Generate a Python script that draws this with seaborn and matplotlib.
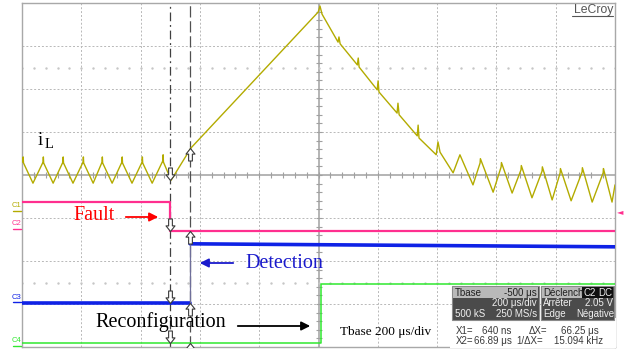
import numpy as np
import pandas as pd
import matplotlib
matplotlib.use("Agg")
import matplotlib.pyplot as plt
from matplotlib.path import Path
from matplotlib.patches import Rectangle, FancyArrowPatch
import seaborn as sns

# ---------------------------------------------------------------------------
# Scope screen: time in microseconds (trigger at 0), amplitude in divisions
# ---------------------------------------------------------------------------
T_MIN, T_MAX = -500, 1500
V_MIN, V_MAX = -4, 4
T_DIV = 200

# Inductor current iL (trace vertices)
il_t = [-500, -497, -496, -495, -463,
        -429, -428, -427, -395,
        -362, -361, -360, -328,
        -294, -293, -292, -260,
        -230, -229, -228, -196,
        -163, -162, -161, -129,
        -95, -94, -93, -61,
        -25, -24, -23, 3,
        70, 499, 505, 512,
        566, 569, 573, 631, 634, 637, 698, 701, 704,
        765, 768, 772, 833, 836, 839, 897, 903, 910,
        954, 977, 1021,
        1045, 1046, 1089, 1116, 1117, 1153, 1183, 1184, 1220,
        1254, 1255, 1288, 1315, 1316, 1352, 1389, 1390, 1423,
        1460, 1461, 1490, 1500]
il_v = [0.33, 0.30, 0.42, 0.28, -0.19,
        0.30, 0.42, 0.28, -0.19,
        0.30, 0.42, 0.28, -0.19,
        0.30, 0.42, 0.28, -0.19,
        0.30, 0.42, 0.28, -0.19,
        0.30, 0.42, 0.28, -0.19,
        0.30, 0.42, 0.28, -0.19,
        0.33, 0.47, 0.30, -0.12,
        0.63, 3.79, 3.93, 3.74,
        3.09, 3.21, 3.05, 2.56, 2.72, 2.51, 1.98, 2.19, 1.93,
        1.44, 1.67, 1.40, 0.91, 1.16, 0.86, 0.47, 0.77, 0.53,
        0.05, 0.47, -0.23,
        0.28, 0.38, -0.40, 0.19, 0.29, -0.42, 0.12, 0.22, -0.53,
        0.09, 0.19, -0.58, 0.05, 0.15, -0.60, 0.07, 0.17, -0.63,
        0.05, 0.15, -0.63, -0.23]

# C2: fault command (falls at the trigger)
c2_t = [-500, 0.6, 0.6, 1500]
c2_v = [-0.63, -0.63, -1.30, -1.30]

# C3: fault detection
c3_t = [-500, 66.9, 66.9, 1500]
c3_v = [-2.98, -2.98, -1.60, -1.67]

# C4: reconfiguration order
c4_t = [-500, 509, 509, 1500]
c4_v = [-3.91, -3.91, -2.53, -2.53]

# Cursors X1 / X2 and the trace levels they read
cursor_t = [0.64, 66.89]
x1_levels = [-0.12, -1.30, -2.98, -3.91]
x2_levels = [0.63, -1.30, -2.98, -3.91]

channel_labels = ["C1", "C2", "C3", "C4"]
channel_label_v = [-0.72, -1.13, -2.84, -3.86]

COL_IL = "#b3ab00"
COL_C2 = "#ff2f8f"
COL_C3 = "#0f22e6"
COL_C4 = "#2fe82f"
GRID = "#b8b8b8"

W, H = 624, 349
sns.set_theme(style="white")
plt.rcParams["font.family"] = ["Liberation Serif", "DejaVu Serif"]

fig = plt.figure(figsize=(W / 100, H / 100), dpi=100)
fig.patch.set_facecolor("white")


def fx(px):
    return px / W


def fy(py):
    return 1 - py / H


ax = fig.add_axes([fx(22), fy(347), (615 - 22) / W, (347 - 3) / H])
ax.set_xlim(T_MIN, T_MAX)
ax.set_ylim(V_MIN, V_MAX)
ax.set_xticks([])
ax.set_yticks([])
for s in ax.spines.values():
    s.set_color("#a8a8a8")
    s.set_linewidth(1.0)

# graticule
for k in range(1, 10):
    t = T_MIN + k * T_DIV
    if k == 5:
        continue
    ax.axvline(t, color=GRID, lw=0.7, ls=(0, (2, 2)), zorder=0)
for k in range(1, 8):
    v = V_MIN + k
    if v == 0:
        continue
    ax.axhline(v, color=GRID, lw=0.7, ls=(0, (2, 2)), zorder=0)
ax.axhline(0, color="#a0a0a0", lw=1.1, zorder=0)
ax.axvline(500, color="#a0a0a0", lw=1.1, zorder=0)
minor_t = np.arange(T_MIN, T_MAX + 1, T_DIV / 5)
minor_v = np.arange(V_MIN, V_MAX + 0.01, 0.2)
ax.plot(minor_t, np.zeros_like(minor_t), ls="none", marker="|", ms=4,
        mew=0.8, color="#a0a0a0", zorder=0)
ax.plot(np.full_like(minor_v, 500), minor_v, ls="none", marker="_", ms=4,
        mew=0.8, color="#a0a0a0", zorder=0)
for v in (2.5, -2.5):
    ax.plot(minor_t, np.full_like(minor_t, v), ls="none", marker="s", ms=0.7,
            color="#c6c6c6", zorder=0)

# traces
df_il = pd.DataFrame({"t": il_t, "v": il_v})
sns.lineplot(data=df_il, x="t", y="v", sort=False, estimator=None, ax=ax,
             color=COL_IL, lw=1.0, zorder=3)

df_c2 = pd.DataFrame({"t": c2_t, "v": c2_v})
sns.lineplot(data=df_c2, x="t", y="v", sort=False, estimator=None, ax=ax,
             color=COL_C2, lw=1.6, zorder=3)

# detection: thick noisy levels, thin edge
sns.lineplot(x=c3_t[:2], y=c3_v[:2], sort=False, estimator=None, ax=ax,
             color=COL_C3, lw=2.6, zorder=3)
sns.lineplot(x=c3_t[2:], y=c3_v[2:], sort=False, estimator=None, ax=ax,
             color=COL_C3, lw=2.6, zorder=3)
sns.lineplot(x=c3_t[1:3], y=c3_v[1:3], sort=False, estimator=None, ax=ax,
             color="#6f6f9a", lw=0.9, zorder=3)

df_c4 = pd.DataFrame({"t": c4_t, "v": c4_v})
sns.lineplot(data=df_c4, x="t", y="v", sort=False, estimator=None, ax=ax,
             color=COL_C4, lw=1.1, zorder=3)

# cursors
ax.axvline(cursor_t[0], color="#404040", lw=0.9, ls=(0, (7, 3, 1.5, 3)), zorder=2)
ax.axvline(cursor_t[1], color="#505050", lw=0.9, ls=(0, (9, 3)), zorder=2)

# hollow cursor arrows (tip at the origin)
down_arrow = Path([(0, 0), (-0.36, 0.45), (-0.15, 0.45), (-0.15, 1.0),
                   (0.15, 1.0), (0.15, 0.45), (0.36, 0.45), (0, 0)],
                  [Path.MOVETO] + [Path.LINETO] * 6 + [Path.CLOSEPOLY])
up_arrow = Path([(x, -y) for x, y in down_arrow.vertices], down_arrow.codes)
ax.plot(np.full(len(x1_levels), cursor_t[0]), x1_levels, ls="none",
        marker=down_arrow, ms=18, mfc="white", mec="#3a3a3a", mew=0.8, zorder=5)
ax.plot(np.full(len(x2_levels), cursor_t[1]), x2_levels, ls="none",
        marker=up_arrow, ms=18, mfc="white", mec="#3a3a3a", mew=0.8, zorder=5)

# channel markers at the left edge
for lab, v, c in zip(channel_labels, channel_label_v, [COL_IL, COL_C2, COL_C3, COL_C4]):
    py = 175 - v * 43
    fig.text(fx(17), fy(py), lab, fontsize=5.5, color=c, ha="center", va="center",
             family=["Liberation Sans", "DejaVu Sans"])
    fig.add_artist(plt.Line2D([fx(13), fx(21)], [fy(py + 5), fy(py + 5)],
                              color=c, lw=1.0, transform=fig.transFigure))

# trigger level marker on the right
fig.text(fx(620), fy(212), "\u25C4", fontsize=6, color=COL_C2, ha="center",
         va="center", family=["DejaVu Sans"])

# annotations
fig.text(fx(38), fy(145), "i", fontsize=13.5, ha="left", va="baseline", color="black")
fig.text(fx(44.5), fy(148), "L", fontsize=10.5, ha="left", va="baseline", color="black")

fig.text(fx(73), fy(215), "Fault", fontsize=14.5, color="#ff0000", ha="left", va="center")
fig.add_artist(FancyArrowPatch((fx(123), fy(217)), (fx(161), fy(217)),
                               transform=fig.transFigure, arrowstyle="-|>",
                               mutation_scale=13, color="#ff0000", lw=1.3))

fig.text(fx(245), fy(263), "Detection", fontsize=14.5, color="#1a1acc", ha="left", va="center")
fig.add_artist(FancyArrowPatch((fx(236), fy(263)), (fx(197), fy(263)),
                               transform=fig.transFigure, arrowstyle="-|>",
                               mutation_scale=13, color="#1a1acc", lw=1.3))

fig.text(fx(95), fy(322), "Reconfiguration", fontsize=14.5, color="black", ha="left", va="center")
fig.add_artist(FancyArrowPatch((fx(235), fy(326)), (fx(313), fy(326)),
                               transform=fig.transFigure, arrowstyle="-|>",
                               mutation_scale=13, color="black", lw=1.3))

fig.text(fx(340), fy(332), "Tbase 200 \u03bcs/div", fontsize=9.5, color="black",
         ha="left", va="center")

# brand
SANS = ["Liberation Sans", "DejaVu Sans"]
fig.text(fx(613), fy(10), "LeCroy", fontsize=8.8, color="#555555", ha="right",
         va="center", family=SANS)
fig.add_artist(plt.Line2D([fx(572), fx(613)], [fy(16), fy(16)], color="#555555",
                          lw=0.8, transform=fig.transFigure))


# timebase / trigger panel
def box(x0, y0, x1, y1, fc, ec="none", lw=0.0):
    fig.add_artist(Rectangle((fx(x0), fy(y1)), (x1 - x0) / W, (y1 - y0) / H,
                             transform=fig.transFigure, facecolor=fc,
                             edgecolor=ec, lw=lw, zorder=6))


def txt(x, y, s, ha="left", color="#f0f0f0", fs=7.0):
    fig.text(fx(x), fy(y), s, fontsize=fs, color=color, ha=ha, va="center",
             family=SANS, zorder=7)


box(450, 318, 616, 348, "white")
box(452, 286, 539, 320, "#4b4b4b", "#8a8a8a", 0.8)
box(541, 286, 614, 320, "#4b4b4b", "#8a8a8a", 0.8)
box(453, 287, 538, 298, "#b9b9b9")
box(542, 287, 582, 298, "#b9b9b9")
box(582, 287, 598, 298, "#101010")
box(598, 287, 613, 298, "#101010")

txt(455, 292.5, "Tbase", color="#202020")
txt(537, 292.5, "-500 \u03bcs", ha="right", color="#202020")
txt(537, 303.5, "200 \u03bcs/div", ha="right")
txt(455, 314, "500 kS")
txt(537, 314, "250 MS/s", ha="right")
txt(543, 292.5, "D\u00e9clench", color="#202020")
txt(590, 292.5, "C2", ha="center")
txt(605.5, 292.5, "DC", ha="center")
txt(543, 303.5, "Arr\u00eater")
txt(613, 303.5, "2.05 V", ha="right")
txt(543, 314, "Edge")
txt(614, 314, "N\u00e9gative", ha="right")

DARK = "#3a3a3a"
txt(456, 331, "X1=", color=DARK)
txt(511, 331, "640 ns", ha="right", color=DARK)
txt(529, 331, "\u0394X=", color=DARK)
txt(599, 331, "66.25 \u03bcs", ha="right", color=DARK)
txt(456, 341, "X2=", color=DARK)
txt(512, 341, "66.89 \u03bcs", ha="right", color=DARK)
txt(516, 341, "1/\u0394X=", color=DARK)
txt(603, 341, "15.094 kHz", ha="right", color=DARK)

fig.savefig("out.png", dpi=100)
